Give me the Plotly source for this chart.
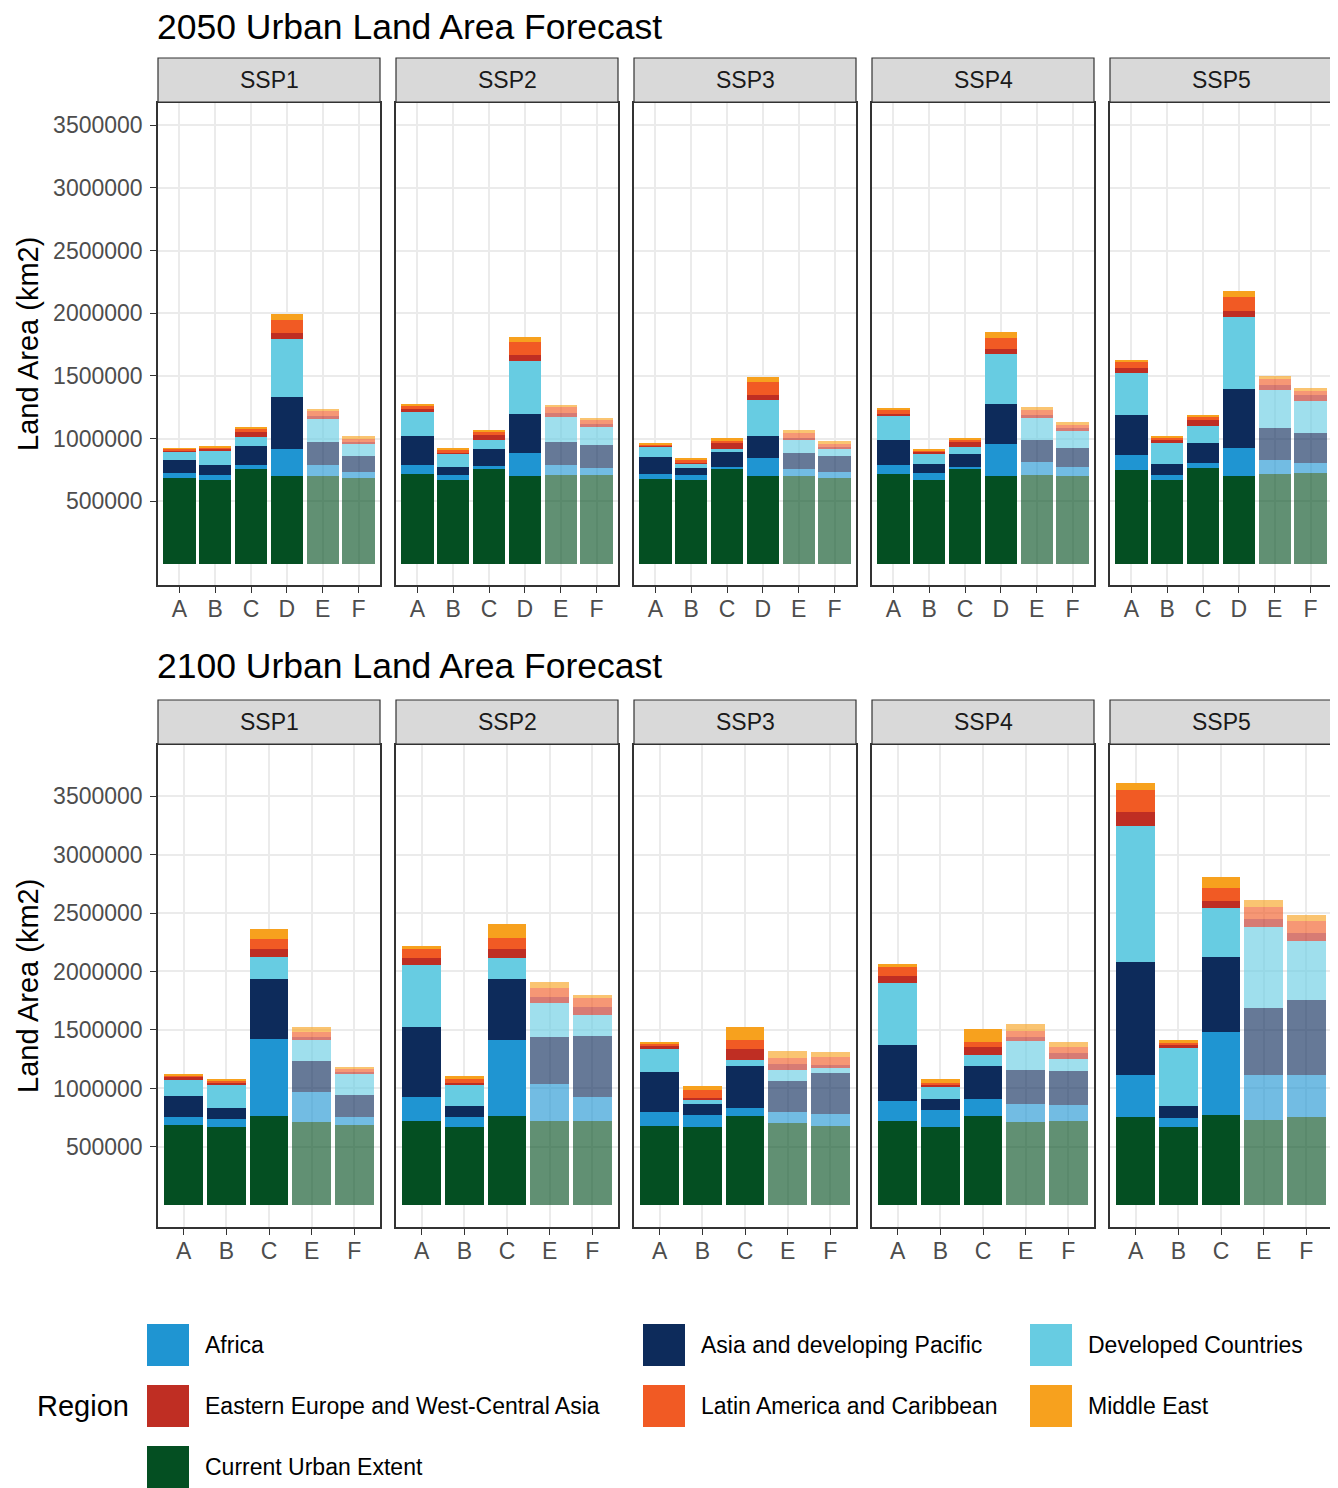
import plotly.graph_objects as go

# ---------------- data (thousand km2) ----------------
scenarios = ["SSP1", "SSP2", "SSP3", "SSP4", "SSP5"]
cats_2050 = ["A", "B", "C", "D", "E", "F"]
cats_2100 = ["A", "B", "C", "E", "F"]

region_names = ["Current Urban Extent", "Africa", "Asia and developing Pacific",
                "Developed Countries", "Eastern Europe and West-Central Asia",
                "Latin America and Caribbean", "Middle East"]
region_colors = ["#044F22", "#1F95D2", "#0D2B5B", "#67CCE2", "#BF2E23", "#F15A24", "#F7A11E"]

# rows: SSP1..SSP5, columns: A..F
current_2050 = [[686, 670, 761, 700, 705, 689],
                [716, 670, 761, 700, 710, 710],
                [678, 668, 755, 700, 700, 689],
                [716, 670, 763, 700, 713, 705],
                [750, 670, 766, 700, 721, 726]]
africa_2050 = [[40, 40, 32, 215, 82, 42],
               [77, 40, 18, 188, 83, 56],
               [43, 39, 22, 149, 61, 42],
               [71, 53, 11, 255, 98, 66],
               [120, 40, 40, 226, 106, 80]]
asia_2050 = [[104, 77, 146, 420, 184, 128],
             [228, 67, 136, 309, 183, 183],
             [133, 59, 119, 170, 122, 128],
             [200, 75, 104, 319, 176, 154],
             [316, 85, 162, 470, 258, 242]]
developed_2050 = [[64, 112, 77, 460, 183, 98],
                  [189, 101, 77, 423, 200, 144],
                  [80, 32, 24, 290, 107, 56],
                  [194, 80, 58, 399, 178, 139],
                  [338, 178, 133, 572, 306, 255]]
eeurope_2050 = [[13, 16, 40, 48, 24, 16],
                [24, 10, 40, 45, 29, 24],
                [13, 8, 43, 40, 12, 18],
                [18, 13, 37, 45, 27, 24],
                [37, 14, 45, 53, 34, 43]]
latam_2050 = [[11, 16, 20, 101, 40, 24],
              [27, 24, 21, 104, 48, 35],
              [8, 29, 21, 101, 46, 22],
              [32, 16, 16, 82, 39, 24],
              [56, 18, 24, 106, 48, 32]]
mideast_2050 = [[5, 10, 16, 48, 19, 21],
                [13, 11, 19, 45, 18, 16],
                [5, 13, 19, 42, 24, 24],
                [8, 13, 16, 48, 19, 21],
                [13, 14, 21, 51, 27, 26]]

# rows: SSP1..SSP5, columns: A, B, C, E, F
current_2100 = [[688, 671, 765, 711, 688],
                [722, 671, 765, 722, 722],
                [682, 671, 765, 705, 682],
                [719, 671, 765, 714, 719],
                [754, 671, 771, 734, 754]]
africa_2100 = [[66, 71, 658, 262, 68],
               [208, 88, 650, 314, 208],
               [114, 103, 71, 97, 102],
               [171, 142, 142, 154, 143],
               [361, 77, 712, 384, 364]]
asia_2100 = [[179, 88, 516, 265, 186],
             [593, 89, 518, 401, 519],
             [345, 96, 359, 262, 348],
             [485, 100, 285, 290, 285],
             [969, 100, 641, 570, 640]]
developed_2100 = [[145, 203, 188, 174, 185],
                  [530, 185, 180, 294, 182],
                  [194, 40, 46, 94, 46],
                  [530, 103, 97, 248, 105],
                  [1160, 504, 416, 689, 501]]
eeurope_2100 = [[17, 17, 65, 31, 14],
                [62, 17, 76, 54, 69],
                [28, 12, 99, 51, 20],
                [54, 17, 63, 34, 51],
                [119, 17, 65, 72, 69]]
latam_2100 = [[20, 17, 86, 43, 29],
              [77, 28, 97, 71, 76],
              [23, 65, 77, 55, 71],
              [82, 17, 48, 54, 52],
              [191, 23, 106, 105, 103]]
mideast_2100 = [[9, 11, 85, 37, 17],
                [26, 29, 120, 57, 26],
                [14, 34, 112, 54, 40],
                [23, 34, 106, 57, 45],
                [54, 20, 96, 57, 51]]

y_ticks = [500000, 1000000, 1500000, 2000000, 2500000, 3000000, 3500000]
y_ticktext = [str(v) for v in y_ticks]

# ---------------- layout helpers ----------------
OFF = 8  # page body margin
W, H = 1330, 1480
FONT = "Liberation Sans, Arial, Helvetica, sans-serif"

panel_x = [(158, 380), (396, 618), (634, 856), (872, 1094), (1110, 1332)]
rows = [
    dict(title="2050 Urban Land Area Forecast", title_y=27, strip=(58, 102), panel=(103, 585),
         cats=cats_2050, yrange=[-167000, 3676000],
         data=[current_2050, africa_2050, asia_2050, developed_2050, eeurope_2050, latam_2050, mideast_2050]),
    dict(title="2100 Urban Land Area Forecast", title_y=666, strip=(700, 744), panel=(745, 1227),
         cats=cats_2100, yrange=[-184000, 3936000],
         data=[current_2100, africa_2100, asia_2100, developed_2100, eeurope_2100, latam_2100, mideast_2100]),
]

def px_x(x):
    return (x - OFF) / W

def px_y(y):
    return 1 - (y - OFF) / H

fig = go.Figure()
layout = dict(width=W, height=H, margin=dict(l=0, r=0, t=0, b=0, autoexpand=False),
              paper_bgcolor="white", plot_bgcolor="white", barmode="stack", bargap=0.1,
              showlegend=False, font=dict(family=FONT))
shapes = []
annotations = []

faded = {"E", "F"}
idx = 0
for r, row in enumerate(rows):
    cats = row["cats"]
    opac = [0.63 if c in faded else 1.0 for c in cats]
    for c, scen in enumerate(scenarios):
        idx += 1
        xa = "x" if idx == 1 else f"x{idx}"
        ya = "y" if idx == 1 else f"y{idx}"
        xkey = "xaxis" if idx == 1 else f"xaxis{idx}"
        ykey = "yaxis" if idx == 1 else f"yaxis{idx}"
        for k, name in enumerate(region_names):
            vals = [v * 1000 for v in row["data"][k][c]]
            fig.add_trace(go.Bar(
                x=cats, y=vals, name=name, xaxis=xa, yaxis=ya,
                marker=dict(color=region_colors[k], opacity=opac, line=dict(width=0)),
                hovertemplate=f"{scen} %{{x}}<br>{name}: %{{y}}<extra></extra>",
            ))
        x0, x1 = panel_x[c]
        p0, p1 = row["panel"]
        layout[xkey] = dict(
            domain=[px_x(x0), px_x(x1)], anchor=ya, type="category",
            categoryorder="array", categoryarray=cats,
            range=[-0.6, len(cats) - 0.4],
            showgrid=True, gridcolor="#EBEBEB", gridwidth=2,
            showline=True, mirror=True, linecolor="#333333", linewidth=1.5,
            ticks="outside", ticklen=6, tickwidth=1.2, tickcolor="#333333",
            ticklabelstandoff=-3,
            tickfont=dict(size=23, color="#4D4D4D", family=FONT),
            zeroline=False, fixedrange=True,
        )
        layout[ykey] = dict(
            domain=[px_y(p1), px_y(p0)], anchor=xa, range=row["yrange"],
            tickvals=y_ticks, ticktext=y_ticktext,
            showgrid=True, gridcolor="#EBEBEB", gridwidth=2,
            showline=True, mirror=True, linecolor="#333333", linewidth=1.5,
            ticks="outside" if c == 0 else "", ticklen=6, tickwidth=1.2, tickcolor="#333333",
            showticklabels=(c == 0), ticklabelstandoff=3,
            tickfont=dict(size=23, color="#4D4D4D", family=FONT),
            zeroline=False, fixedrange=True,
        )
        # strip
        s0, s1 = row["strip"]
        shapes.append(dict(type="rect", xref="paper", yref="paper",
                           x0=px_x(x0), x1=px_x(x1), y0=px_y(s1), y1=px_y(s0),
                           fillcolor="#D9D9D9", line=dict(color="#333333", width=1.2), layer="above"))
        annotations.append(dict(text=scen, xref="paper", yref="paper",
                                x=px_x((x0 + x1) / 2), y=px_y((s0 + s1) / 2),
                                xanchor="center", yanchor="middle", showarrow=False,
                                font=dict(size=23, color="#1A1A1A", family=FONT)))
    # row title
    annotations.append(dict(text=row["title"], xref="paper", yref="paper",
                            x=px_x(156), y=px_y(row["title_y"]), xanchor="left", yanchor="middle",
                            showarrow=False, borderpad=0,
                            font=dict(size=35.5, color="black", family=FONT)))
    # y axis title
    p0, p1 = row["panel"]
    annotations.append(dict(text="Land Area (km2)", xref="paper", yref="paper",
                            x=px_x(28), y=px_y((p0 + p1) / 2), xanchor="center", yanchor="middle",
                            textangle=-90, showarrow=False,
                            font=dict(size=29, color="black", family=FONT)))

# ---------------- manual legend ----------------
legend_order = [1, 2, 3, 4, 5, 6, 0]
key_cols = [147, 643, 1030]
key_rows = [1345, 1406, 1467]
ks = 42
for i, k in enumerate(legend_order):
    rr, cc = divmod(i, 3)
    kx = key_cols[cc]
    ky = key_rows[rr]
    shapes.append(dict(type="rect", xref="paper", yref="paper",
                       x0=px_x(kx), x1=px_x(kx + ks), y0=px_y(ky + ks / 2), y1=px_y(ky - ks / 2),
                       fillcolor=region_colors[k], line=dict(width=0)))
    annotations.append(dict(text=region_names[k], xref="paper", yref="paper",
                            x=px_x(kx + ks + 14), y=px_y(ky), xanchor="left", yanchor="middle",
                            showarrow=False, font=dict(size=23, color="black", family=FONT)))
annotations.append(dict(text="Region", xref="paper", yref="paper",
                        x=px_x(35), y=px_y(1406), xanchor="left", yanchor="middle",
                        showarrow=False, font=dict(size=29, color="black", family=FONT)))

layout["shapes"] = shapes
layout["annotations"] = annotations
fig.update_layout(**layout)
fig.write_html("out.html")
